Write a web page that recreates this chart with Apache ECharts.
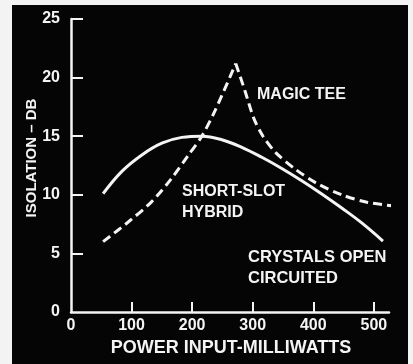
<!DOCTYPE html>
<html>
<head>
<meta charset="utf-8">
<script src="https://cdn.jsdelivr.net/npm/echarts@6/dist/echarts.min.js"></script>
<style>
  html, body { margin: 0; padding: 0; background: #f3f3f3; }
  #chart { width: 413px; height: 364px; }
</style>
</head>
<body>
<div id="chart"></div>
<script>
// Power input (mW) and isolation (dB) for the two hybrid junctions
const shortSlotPower = [53, 84, 117, 150, 183, 216, 249, 282, 315, 348, 381, 414, 447, 480, 515];
const shortSlotIsolation = [10.1, 12.0, 13.4, 14.4, 14.9, 15.0, 14.7, 14.05, 13.2, 12.25, 11.2, 10.07, 8.87, 7.6, 6.05];

const magicTeePower = [53, 95, 133, 166, 194, 216, 238, 272, 287, 302, 317, 338, 370, 405, 447, 490, 533];
const magicTeeIsolation = [6.0, 7.7, 9.4, 11.4, 13.4, 15.0, 17.2, 21.2, 18.9, 16.5, 15.0, 13.6, 12.2, 11.0, 10.0, 9.35, 9.05];
const magicTeePeakIndex = 7;

const xTickValues = [0, 100, 200, 300, 400, 500];
const yTickValues = [0, 5, 10, 15, 20, 25];

const INK = '#f4f4f4';
const FONT = 'Liberation Sans';

const pairs = (xs, ys) => xs.map((x, i) => [x, ys[i]]);
const magicTee = pairs(magicTeePower, magicTeeIsolation);
// the curve has a sharp cusp at its peak, so each side is smoothed on its own
const magicTeeRise = magicTee.slice(0, magicTeePeakIndex + 1);
const magicTeeFall = magicTee.slice(magicTeePeakIndex);

const dashedStyle = { color: INK, width: 3, type: [9, 5], cap: 'butt' };

const chart = echarts.init(document.getElementById('chart'), null, { renderer: 'canvas' });
chart.setOption({
  backgroundColor: '#f3f3f3',
  animation: false,
  grid: { left: 71, right: 24, top: 19, bottom: 52 },
  xAxis: {
    type: 'value',
    min: 0,
    max: 525,
    axisLine: { show: true, lineStyle: { color: INK, width: 2.5 } },
    axisTick: { show: true, inside: true, length: 10, lineStyle: { color: INK, width: 2 },
                customValues: xTickValues.slice(1) },
    axisLabel: { color: INK, fontFamily: FONT, fontWeight: 'bold', fontSize: 16, margin: 6,
                 customValues: xTickValues },
    splitLine: { show: false }
  },
  yAxis: {
    type: 'value',
    min: 0,
    max: 25,
    interval: 5,
    axisLine: { show: true, lineStyle: { color: INK, width: 2.5 } },
    axisTick: { show: true, inside: true, length: 12, lineStyle: { color: INK, width: 2 },
                customValues: yTickValues.slice(1) },
    axisLabel: { color: INK, fontFamily: FONT, fontWeight: 'bold', fontSize: 16, margin: 11,
                 customValues: yTickValues },
    splitLine: { show: false }
  },
  graphic: [
    { type: 'rect', z: -10, shape: { x: 12, y: 5, width: 396, height: 359 }, style: { fill: '#050505' } },
    { type: 'text', z: 10, style: { x: 257, y: 95, text: 'MAGIC TEE', fill: INK, font: `bold 16px "${FONT}"`, textVerticalAlign: 'middle' } },
    { type: 'text', z: 10, style: { x: 182, y: 192, text: 'SHORT-SLOT', fill: INK, font: `bold 16px "${FONT}"`, textVerticalAlign: 'middle' } },
    { type: 'text', z: 10, style: { x: 182, y: 213, text: 'HYBRID', fill: INK, font: `bold 16px "${FONT}"`, textVerticalAlign: 'middle' } },
    { type: 'text', z: 10, style: { x: 248, y: 257, text: 'CRYSTALS OPEN', fill: INK, font: `bold 16.5px "${FONT}"`, textVerticalAlign: 'middle' } },
    { type: 'text', z: 10, style: { x: 248, y: 278, text: 'CIRCUITED', fill: INK, font: `bold 16.5px "${FONT}"`, textVerticalAlign: 'middle' } },
    { type: 'text', z: 10, style: { x: 231, y: 348, text: 'POWER INPUT-MILLIWATTS', fill: INK, font: `bold 18px "${FONT}"`, textAlign: 'center', textVerticalAlign: 'middle' } },
    { type: 'text', z: 10, x: 32, y: 158, rotation: Math.PI / 2,
      style: { x: 0, y: 0, text: 'ISOLATION – DB', fill: INK, font: `bold 15px "${FONT}"`, textAlign: 'center', textVerticalAlign: 'middle' } }
  ],
  series: [
    {
      name: 'Short-slot hybrid',
      type: 'line',
      data: pairs(shortSlotPower, shortSlotIsolation),
      smooth: 0.4,
      showSymbol: false,
      clip: false,
      lineStyle: { color: INK, width: 3 }
    },
    {
      name: 'Magic tee',
      type: 'line',
      data: magicTeeRise,
      smooth: 0.3,
      showSymbol: false,
      clip: false,
      lineStyle: dashedStyle
    },
    {
      name: 'Magic tee',
      type: 'line',
      data: magicTeeFall,
      smooth: 0.3,
      showSymbol: false,
      clip: false,
      lineStyle: dashedStyle
    }
  ]
});
</script>
</body>
</html>
